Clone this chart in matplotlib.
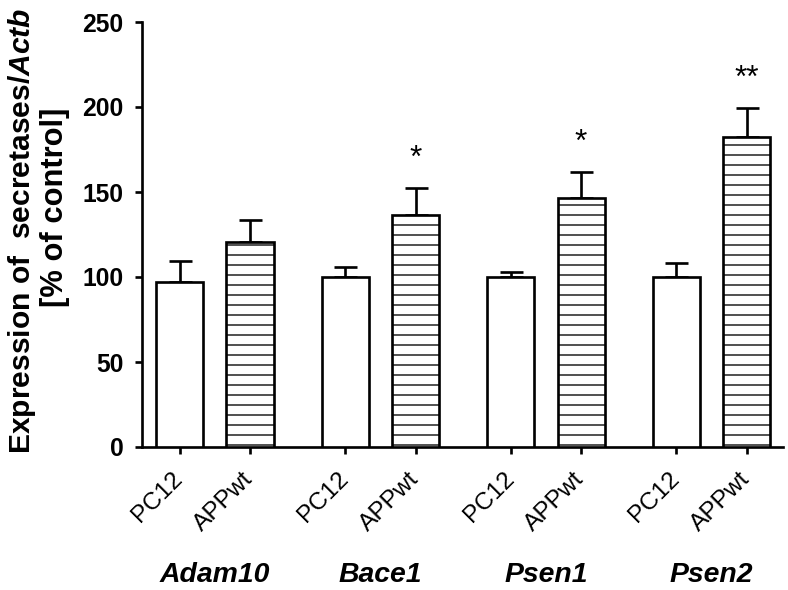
import numpy as np
import matplotlib
matplotlib.use('Agg')
import matplotlib.pyplot as plt

# Data
genes = ['Adam10', 'Bace1', 'Psen1', 'Psen2']
cell_lines = ['PC12', 'APPwt']
pc12_mean = [97, 100, 100, 100]
pc12_err = [12.4, 6, 3, 8.2]
appwt_mean = [120.5, 136.5, 146.5, 182.4]
appwt_err = [13, 16, 15.3, 17]
stars = ['', '*', '*', '**']

plt.rcParams['font.family'] = ['Liberation Sans', 'DejaVu Sans']
plt.rcParams['hatch.linewidth'] = 0.8
plt.rcParams['mathtext.fontset'] = 'custom'
plt.rcParams['mathtext.bfit'] = 'Liberation Sans:italic:bold'

W, H, dpi = 788, 590, 120
fig = plt.figure(figsize=(W / dpi, H / dpi), dpi=dpi)
ax = fig.add_axes([142 / W, 1 - 447 / H, 641 / W, 425 / H])

group_step = 2.348
width = 0.667
x_pc = np.arange(len(genes)) * group_step
x_app = x_pc + 1

lw = 1.6
ax.bar(x_pc, pc12_mean, width, color='white', edgecolor='black', linewidth=lw, zorder=3)
ax.bar(x_app, appwt_mean, width, color='white', edgecolor='black', linewidth=lw,
       hatch='--', zorder=3)

for xs, m, e in [(x_pc, pc12_mean, pc12_err), (x_app, appwt_mean, appwt_err)]:
    ax.errorbar(xs, m, yerr=[np.zeros(len(m)), e], fmt='none', ecolor='black',
                elinewidth=lw, capsize=6.9, capthick=lw, zorder=2)

# significance marks
for xs, m, e, s in zip(x_app, appwt_mean, appwt_err, stars):
    if s:
        ax.text(xs, m + e + 17, s, ha='center', va='center', fontsize=19)

ax.set_xlim(-0.532, 8.56)
ax.set_ylim(0, 250)
ax.set_yticks([0, 50, 100, 150, 200, 250])

ticks = np.ravel(np.column_stack([x_pc, x_app]))
ax.set_xticks(ticks)
ax.set_xticklabels(cell_lines * len(genes), rotation=45, ha='right', va='center',
                   rotation_mode='anchor', fontsize=14.7)

for lbl in ax.get_yticklabels():
    lbl.set_fontweight('bold')
    lbl.set_fontsize(14.8)

for side in ['top', 'right']:
    ax.spines[side].set_visible(False)
for side in ['left', 'bottom']:
    ax.spines[side].set_linewidth(lw)
ax.tick_params(axis='both', width=lw, length=4.2, direction='out')
ax.tick_params(axis='y', pad=7)
ax.tick_params(axis='x', pad=13)

# two-line y label, placed line by line
fig.text(30 / W, 1 - 231 / H, 'Expression of  secretases/$\\mathbfit{Actb}$',
         rotation=90, rotation_mode='anchor', ha='center', va='baseline',
         fontsize=18, fontweight='bold')
fig.text(63 / W, 1 - 207 / H, '[% of control]',
         rotation=90, rotation_mode='anchor', ha='center', va='baseline',
         fontsize=18.5, fontweight='bold')

# gene names under each pair
for xc, g in zip((x_pc + x_app) / 2, genes):
    ax.text(xc, -0.30, g, transform=ax.get_xaxis_transform(), ha='center',
            va='center', fontsize=17, fontweight='bold', style='italic')

fig.savefig('out.png', dpi=dpi)
